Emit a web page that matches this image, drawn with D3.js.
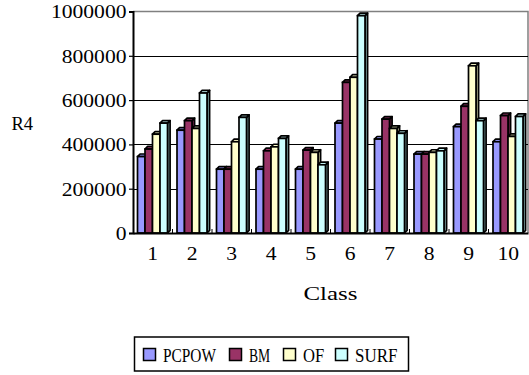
<!DOCTYPE html>
<html>
<head>
<meta charset="utf-8">
<script src="https://cdn.jsdelivr.net/npm/d3@7"></script>
<style>
  html, body { margin: 0; padding: 0; background: #fff; }
  svg { display: block; }
  svg text { font-family: "Liberation Serif"; fill: #000; }
</style>
</head>
<body>
<svg id="chart" width="529" height="375"></svg>
<script>
// Classes along the x axis
const classes = ["1", "2", "3", "4", "5", "6", "7", "8", "9", "10"];
// Series names and their fills
const seriesNames = ["PCPOW", "BM", "OF", "SURF"];
const seriesFill = ["#9999ff", "#993366", "#ffffcc", "#ccffff"];
const seriesSide = ["#6b6bb3", "#6b2447", "#b3b38f", "#7fa6a6"];
// R4 per class, one array per series
const pcpow = [345000, 464000, 288000, 288000, 288000, 496000, 424000, 356000, 480000, 412000];
const bm    = [379000, 507000, 288000, 371000, 374000, 680000, 514000, 356000, 572000, 530000];
const of    = [446000, 472000, 412000, 389000, 364000, 703000, 472000, 364000, 755000, 436000];
const surf  = [496000, 632000, 522000, 427000, 308000, 981000, 450000, 371000, 507000, 526000];
const yTicks = [0, 200000, 400000, 600000, 800000, 1000000];

const seriesValues = [pcpow, bm, of, surf];

const svg = d3.select("#chart");
const plotLeft = 133, plotRight = 528, plotTop = 11.5, plotBottom = 233;

const x = d3.scaleBand().domain(classes).range([plotLeft, plotRight]).paddingInner(0).paddingOuter(0);
const y = d3.scaleLinear().domain([0, 1000000]).range([plotBottom, plotTop]);
const sub = d3.scaleBand().domain(seriesNames).range([4.5, 34.5]);

// character width used for the half-width serif lettering
const cw = 10.8;
function fit(sel) {
  sel.attr("textLength", function () { return this.textContent.length * cw; })
     .attr("lengthAdjust", "spacingAndGlyphs");
}

// plot frame (top and right edges)
svg.append("path")
  .attr("d", `M${plotLeft},${plotTop}H${plotRight}V${plotBottom}`)
  .attr("fill", "none").attr("stroke", "#808080").attr("stroke-width", 1.5);

// horizontal gridlines
svg.append("g").selectAll("line")
  .data(yTicks.filter(d => d > 0 && d < 1000000))
  .join("line")
  .attr("x1", plotLeft).attr("x2", plotRight)
  .attr("y1", d => Math.round(y(d)) + 0.5).attr("y2", d => Math.round(y(d)) + 0.5)
  .attr("stroke", "#000").attr("stroke-width", 1.2);

// y axis
const yAxis = d3.axisLeft(y).tickValues(yTicks).tickSize(4).tickPadding(3).tickFormat(d3.format("d"));
const gy = svg.append("g").attr("transform", `translate(${plotLeft},0)`).call(yAxis);
gy.attr("font-family", null);
gy.select(".domain").attr("stroke", "#000").attr("stroke-width", 2);
gy.selectAll(".tick line").attr("stroke", "#000").attr("stroke-width", 1.2);
gy.selectAll(".tick text")
  .attr("font-size", 18)
  .attr("dy", "0.36em").attr("x", -6.5)
  .each(function () { fit(d3.select(this)); });

// 3D columns: side face, top face, then front face
const depth = 2.6;
const bw = sub.bandwidth();
const sw = 1.7;
const groups = svg.append("g").selectAll("g")
  .data(classes)
  .join("g")
  .attr("transform", d => `translate(${x(d)},0)`);

groups.each(function (c, ci) {
  const g = d3.select(this);
  seriesNames.forEach((s, si) => {
    const v = seriesValues[si][ci];
    const x0 = sub(s), x1 = x0 + bw, yt = y(v);
    g.append("path")
      .attr("d", `M${x1},${yt}L${x1 + depth},${yt - depth}L${x1 + depth},${plotBottom - depth}L${x1},${plotBottom}Z`)
      .attr("fill", seriesSide[si]).attr("stroke", "#000").attr("stroke-width", sw).attr("stroke-linejoin", "round");
    g.append("path")
      .attr("d", `M${x0},${yt}L${x0 + depth},${yt - depth}L${x1 + depth},${yt - depth}L${x1},${yt}Z`)
      .attr("fill", seriesFill[si]).attr("stroke", "#000").attr("stroke-width", sw).attr("stroke-linejoin", "round");
    g.append("rect")
      .attr("x", x0).attr("y", yt).attr("width", bw).attr("height", plotBottom - yt)
      .attr("fill", seriesFill[si]).attr("stroke", "#000").attr("stroke-width", sw);
  });
});

// x axis
const xAxis = d3.axisBottom(x).tickSize(0).tickPadding(14);
const gx = svg.append("g").attr("transform", `translate(0,${plotBottom})`).call(xAxis);
gx.attr("font-family", null);
gx.select(".domain").attr("stroke", "#000").attr("stroke-width", 2.2);
gx.selectAll(".tick text")
  .attr("font-size", 18)
  .each(function () { fit(d3.select(this)); });
// small separators between classes
svg.append("g").selectAll("line")
  .data(classes.slice(1))
  .join("line")
  .attr("x1", d => x(d)).attr("x2", d => x(d))
  .attr("y1", plotBottom - 4).attr("y2", plotBottom)
  .attr("stroke", "#000").attr("stroke-width", 1);

// axis titles
svg.append("text").attr("x", 330.5).attr("y", 300).attr("text-anchor", "middle")
  .attr("font-size", 18).text("Class").call(fit);
svg.append("text").attr("x", 11.5).attr("y", 130)
  .attr("font-size", 18).text("R4").call(fit);

// legend
const legend = svg.append("g");
legend.append("rect").attr("x", 134.5).attr("y", 337).attr("width", 274).attr("height", 34)
  .attr("fill", "#fff").attr("stroke", "#000").attr("stroke-width", 1.5);
const legendX = [143, 229, 283, 335];
const items = legend.selectAll("g.item").data(seriesNames).join("g")
  .attr("class", "item")
  .attr("transform", (d, i) => `translate(${legendX[i]},348)`);
items.append("rect").attr("x", 0.5).attr("y", 0.5).attr("width", 12).attr("height", 12)
  .attr("fill", (d, i) => seriesFill[i]).attr("stroke", "#000").attr("stroke-width", 1.5);
items.append("text").attr("x", 20).attr("y", 14).attr("font-size", 18)
  .text(d => d).each(function () { d3.select(this).attr("textLength", this.textContent.length * 10.6).attr("lengthAdjust", "spacingAndGlyphs"); });
</script>
</body>
</html>
